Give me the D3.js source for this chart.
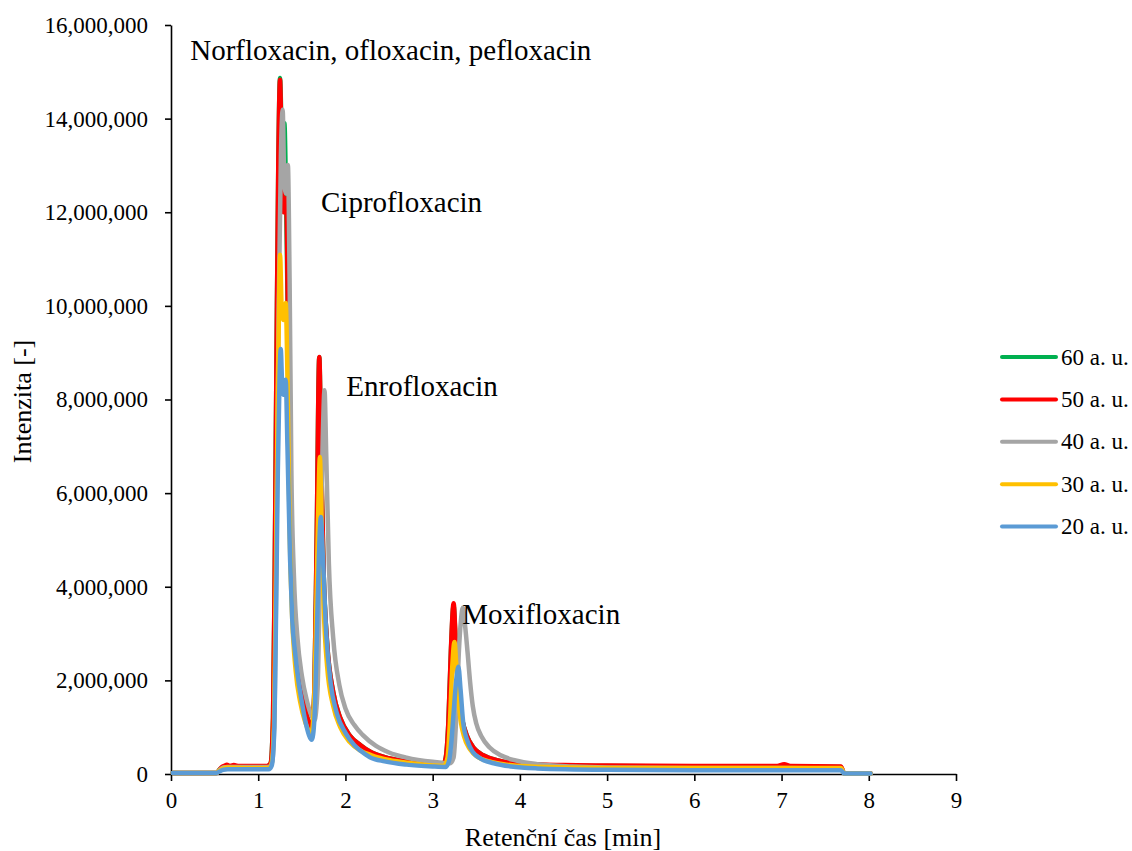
<!DOCTYPE html>
<html>
<head>
<meta charset="utf-8">
<script src="https://cdn.jsdelivr.net/npm/d3@7/dist/d3.min.js"></script>
<style>
  html, body { margin: 0; padding: 0; background: #fff; }
  svg { display: block; font-family: "Liberation Serif", "Times New Roman", serif; }
</style>
</head>
<body>
<svg id="chart" width="1132" height="851"></svg>
<script>
// ---- Data (retention time [min], intensity [millions]) ----
const seriesNames = ["60 a. u.", "50 a. u.", "40 a. u.", "30 a. u.", "20 a. u."];
const seriesColors = ["#00B050", "#FF0000", "#A5A5A5", "#FFC000", "#5B9BD5"];

const series60 = [[0.02,0.02],[0.52,0.02],[0.56,0.10],[0.60,0.15],[0.65,0.17],[0.75,0.16],[0.9,0.16],[1.10,0.16],[1.14,0.22],[1.17,1.2],[1.19,4.5],[1.21,9.0],[1.23,13.0],[1.25,14.87],[1.275,13.4],[1.30,13.9],[1.32,12.2],[1.345,9.0],[1.37,5.8],[1.40,3.8],[1.44,2.6],[1.49,1.85],[1.55,1.3],[1.617,0.98],[1.645,1.9],[1.67,5.0],[1.70,8.9],[1.722,6.8],[1.75,4.3],[1.79,2.8],[1.86,1.75],[1.94,1.2],[2.05,0.82],[2.17,0.62],[2.28,0.48],[2.45,0.36],[2.7,0.27],[3.0,0.21],[3.12,0.2],[3.15,0.35],[3.18,1.1],[3.21,2.65],[3.24,3.6],[3.265,2.75],[3.295,1.7],[3.34,1.15],[3.39,0.83],[3.47,0.56],[3.58,0.4],[3.75,0.29],[4.0,0.22],[4.5,0.18],[5,0.17],[6,0.16],[7,0.16],[7.68,0.15],[7.72,0.01],[8.02,0.01]];

const series50 = [[0.02,0.02],[0.52,0.02],[0.56,0.10],[0.59,0.16],[0.62,0.18],[0.64,0.20],[0.67,0.17],[0.72,0.19],[0.78,0.17],[0.9,0.17],[1.10,0.17],[1.14,0.22],[1.17,1.2],[1.19,4.5],[1.21,9.0],[1.23,13.0],[1.25,14.83],[1.27,13.0],[1.29,12.0],[1.32,12.3],[1.345,9.0],[1.37,5.8],[1.40,3.8],[1.44,2.6],[1.49,1.85],[1.55,1.3],[1.617,1.0],[1.645,1.9],[1.67,5.0],[1.70,8.91],[1.722,6.8],[1.75,4.3],[1.79,2.8],[1.86,1.75],[1.94,1.2],[2.05,0.82],[2.17,0.62],[2.28,0.48],[2.45,0.36],[2.7,0.27],[3.0,0.21],[3.12,0.2],[3.15,0.35],[3.18,1.1],[3.21,2.7],[3.24,3.65],[3.265,2.8],[3.295,1.7],[3.34,1.15],[3.39,0.83],[3.47,0.56],[3.58,0.4],[3.75,0.29],[4.0,0.22],[4.5,0.19],[5,0.18],[6,0.17],[6.95,0.17],[7.03,0.21],[7.1,0.17],[7.68,0.16],[7.72,0.01],[8.02,0.01]];

const series40 = [[0.02,0.02],[0.52,0.02],[0.56,0.09],[0.60,0.14],[0.65,0.15],[0.9,0.15],[1.12,0.15],[1.16,0.25],[1.19,1.5],[1.21,5.0],[1.235,10.0],[1.26,13.2],[1.28,14.19],[1.30,12.6],[1.32,12.4],[1.34,13.01],[1.36,10.5],[1.38,6.5],[1.41,4.2],[1.45,2.9],[1.50,2.1],[1.56,1.55],[1.61,1.25],[1.645,1.15],[1.68,1.8],[1.71,4.5],[1.74,7.2],[1.76,8.2],[1.78,6.8],[1.81,4.5],[1.86,2.9],[1.93,1.9],[2.0,1.4],[2.1,1.05],[2.2,0.83],[2.35,0.6],[2.5,0.46],[2.7,0.35],[3.0,0.26],[3.2,0.23],[3.24,0.35],[3.27,1.2],[3.30,2.6],[3.325,3.3],[3.345,3.55],[3.37,3.2],[3.40,2.6],[3.43,1.95],[3.46,1.45],[3.50,1.08],[3.56,0.8],[3.65,0.57],[3.78,0.4],[3.95,0.29],[4.2,0.21],[4.6,0.16],[5,0.14],[6,0.13],[7,0.13],[7.68,0.12],[7.72,0.01],[8.02,0.01]];

const series30 = [[0.02,0.02],[0.52,0.02],[0.56,0.08],[0.60,0.12],[0.65,0.14],[0.9,0.13],[1.12,0.13],[1.15,0.2],[1.18,1.0],[1.20,3.8],[1.22,7.5],[1.24,10.2],[1.25,11.09],[1.27,9.9],[1.29,9.7],[1.315,10.06],[1.335,8.5],[1.36,5.2],[1.39,3.3],[1.43,2.2],[1.48,1.55],[1.54,1.1],[1.61,0.88],[1.64,1.5],[1.665,3.5],[1.69,5.8],[1.707,6.77],[1.725,5.5],[1.75,3.6],[1.79,2.3],[1.86,1.45],[1.94,1.0],[2.05,0.68],[2.17,0.5],[2.3,0.4],[2.5,0.3],[2.75,0.23],[3.0,0.18],[3.13,0.17],[3.17,0.35],[3.20,1.2],[3.225,2.3],[3.25,2.82],[3.275,2.2],[3.31,1.3],[3.36,0.8],[3.43,0.52],[3.52,0.36],[3.65,0.27],[3.85,0.2],[4.0,0.17],[4.5,0.14],[5,0.13],[6,0.13],[7,0.13],[7.68,0.13],[7.72,0.01],[8.02,0.01]];

const series20 = [[0.02,0.02],[0.52,0.02],[0.56,0.06],[0.60,0.09],[0.65,0.10],[0.9,0.10],[1.12,0.10],[1.155,0.18],[1.185,1.0],[1.205,3.5],[1.225,6.5],[1.245,8.5],[1.258,9.08],[1.275,8.3],[1.29,8.1],[1.315,8.42],[1.335,7.0],[1.365,4.6],[1.39,3.3],[1.422,2.6],[1.46,2.0],[1.499,1.55],[1.55,1.05],[1.615,0.73],[1.645,1.2],[1.67,2.8],[1.695,4.6],[1.718,5.49],[1.74,4.7],[1.78,3.0],[1.83,1.95],[1.90,1.3],[2.0,0.88],[2.1,0.62],[2.17,0.5],[2.28,0.36],[2.45,0.27],[2.7,0.2],[3.0,0.16],[3.15,0.15],[3.19,0.3],[3.215,0.7],[3.24,1.3],[3.27,2.0],[3.295,2.29],[3.32,1.8],[3.35,1.1],[3.40,0.7],[3.46,0.47],[3.55,0.33],[3.7,0.23],[3.9,0.16],[4.2,0.12],[5,0.09],[6,0.08],[7,0.08],[7.68,0.08],[7.72,0.01],[8.02,0.01]];

const xTicks = [0, 1, 2, 3, 4, 5, 6, 7, 8, 9];
const yTicks = [0, 2000000, 4000000, 6000000, 8000000, 10000000, 12000000, 14000000, 16000000];

const peakLabels = [
  { text: "Norfloxacin, ofloxacin, pefloxacin", t: 0.22, v: 15.25 },
  { text: "Ciprofloxacin", t: 1.72, v: 12.0 },
  { text: "Enrofloxacin", t: 2.01, v: 8.08 },
  { text: "Moxifloxacin", t: 3.34, v: 3.2 }
];

const xTitle = "Retenční čas [min]";
const yTitle = "Intenzita [-]";

// ---- Layout ----
const svg = d3.select("#chart");
const plot = { left: 171, right: 956, top: 25, bottom: 774 };

const x = d3.scaleLinear().domain([0, 9]).range([plot.left, plot.right]);
const y = d3.scaleLinear().domain([0, 16000000]).range([plot.bottom, plot.top]);

// Axes
const xAxis = d3.axisBottom(x).tickValues(xTicks).tickFormat(d3.format("d"))
  .tickSize(7).tickSizeOuter(0).tickPadding(11);
const yAxis = d3.axisLeft(y).tickValues(yTicks).tickFormat(d3.format(","))
  .tickSize(6).tickSizeOuter(0).tickPadding(17);

const gx = svg.append("g").attr("transform", `translate(0,${plot.bottom})`).call(xAxis);
const gy = svg.append("g").attr("transform", `translate(${plot.left},0)`).call(yAxis);
[gx, gy].forEach(g => {
  g.attr("font-family", null);
  g.selectAll("path.domain").attr("stroke", "#000").attr("stroke-width", 1.6);
  g.selectAll(".tick line").attr("stroke", "#000").attr("stroke-width", 1.6);
  g.selectAll(".tick text").attr("fill", "#000")
    .style("font-family", '"Liberation Serif", "Times New Roman", serif')
    .style("font-size", "23px");
});

// Lines
const line = d3.line()
  .x(d => x(d[0]))
  .y(d => y(d[1] * 1e6))
  .curve(d3.curveMonotoneX);

const allSeries = [series60, series50, series40, series30, series20];
allSeries.forEach((s, i) => {
  svg.append("path")
    .datum(s)
    .attr("fill", "none")
    .attr("stroke", seriesColors[i])
    .attr("stroke-width", 4.5)
    .attr("stroke-linejoin", "round")
    .attr("stroke-linecap", "round")
    .attr("d", line);
});

// Peak labels
peakLabels.forEach(p => {
  svg.append("text")
    .attr("x", x(p.t))
    .attr("y", y(p.v * 1e6))
    .attr("fill", "#000")
    .style("font-size", "29px")
    .text(p.text);
});

// Axis titles
svg.append("text")
  .attr("x", (plot.left + plot.right) / 2 - 0.5)
  .attr("y", 846)
  .attr("text-anchor", "middle")
  .style("font-size", "26px")
  .text(xTitle);

svg.append("text")
  .attr("transform", `translate(31,${(plot.top + plot.bottom) / 2 + 2}) rotate(-90)`)
  .attr("text-anchor", "middle")
  .style("font-size", "26px")
  .text(yTitle);

// Legend
const legend = svg.append("g").attr("transform", "translate(1002,357)");
seriesNames.forEach((name, i) => {
  const g = legend.append("g").attr("transform", `translate(0,${i * 42.4})`);
  g.append("line").attr("x1", 0).attr("x2", 54).attr("y1", 0).attr("y2", 0)
    .attr("stroke", seriesColors[i]).attr("stroke-width", 4).attr("stroke-linecap", "round");
  g.append("text").attr("x", 59).attr("y", 0).attr("dy", "0.33em")
    .style("font-size", "23px").attr("fill", "#000").text(name);
});
</script>
</body>
</html>
